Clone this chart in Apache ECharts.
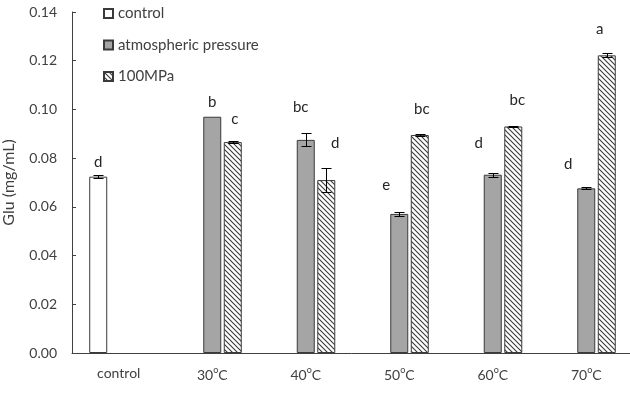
<!DOCTYPE html>
<html>
<head>
<meta charset="utf-8">
<script src="https://cdn.jsdelivr.net/npm/echarts@6/dist/echarts.min.js"></script>
<style>
  html, body { margin: 0; padding: 0; background: #fff; }
  #main { width: 630px; height: 402px; }
</style>
</head>
<body>
<div id="main"></div>
<script>
// data
var categories = ['control', '30°C', '40°C', '50°C', '60°C', '70°C'];
var controlValues = [0.0724, null, null, null, null, null];
var controlErrors = [0.0005, 0, 0, 0, 0, 0];
var atmValues = [null, 0.0970, 0.0875, 0.0571, 0.0732, 0.0676];
var atmErrors = [0, 0, 0.0027, 0.0007, 0.0008, 0.0004];
var mpaValues = [null, 0.0866, 0.0710, 0.0895, 0.0930, 0.1222];
var mpaErrors = [0, 0.0005, 0.0051, 0.0005, 0.0003, 0.0008];
var controlLetters = ['d', '', '', '', '', ''];
var atmLetters = ['', 'b', 'bc', 'e', 'd', 'd'];
var mpaLetters = ['', 'c', 'd', 'bc', 'bc', 'a'];

// where the significance letters sit relative to the bar top (the original used free text boxes)
var controlShift = [[0, 0], [0, 0], [0, 0], [0, 0], [0, 0], [0, 0]];
var atmShift = [[0, 0], [0, 0], [-5, -18], [-13, -14], [-14, -17], [-18, -10]];
var mpaShift = [[0, 0], [2, -8], [9, -22], [2, -11], [4, -12], [-7, -12]];

var FONT = 'Lato';
var barW = 18, barGap = 0.14;
var step = barW * (1 + barGap);

// diagonal hatch for the 100MPa series
function hatch() {
    var s = 5;
    var c = document.createElement('canvas');
    c.width = s; c.height = s;
    var g = c.getContext('2d');
    g.fillStyle = '#fff';
    g.fillRect(0, 0, s, s);
    g.strokeStyle = '#3a3a3a';
    g.lineWidth = 1.1;
    g.beginPath();
    g.moveTo(-1, -1); g.lineTo(s + 1, s + 1);
    g.moveTo(-1, s - 1); g.lineTo(1, s + 1);
    g.moveTo(s - 1, -1); g.lineTo(s + 1, 1);
    g.stroke();
    return c;
}

function barData(values, letters, shift) {
    return values.map(function (v, i) {
        return {
            value: v,
            label: { offset: shift[i], formatter: letters[i] }
        };
    });
}

function errorSeries(values, errors, dx) {
    var data = [];
    values.forEach(function (v, i) {
        if (v != null && errors[i] > 0) data.push([i, v, errors[i]]);
    });
    return {
        type: 'custom',
        silent: true,
        z: 10,
        data: data,
        encode: { x: 0, y: 1 },
        renderItem: function (params, api) {
            var hi = api.coord([api.value(0), api.value(1) + api.value(2)]);
            var lo = api.coord([api.value(0), api.value(1) - api.value(2)]);
            var x = Math.round(hi[0] + dx) + 0.5;
            var y1 = Math.round(hi[1]) + 0.5, y2 = Math.round(lo[1]) + 0.5;
            var st = { stroke: '#000', lineWidth: 1, fill: null };
            return {
                type: 'group',
                children: [
                    { type: 'line', shape: { x1: x, y1: y1, x2: x, y2: y2 }, style: st },
                    { type: 'line', shape: { x1: x - 5, y1: y1, x2: x + 5, y2: y1 }, style: st },
                    { type: 'line', shape: { x1: x - 5, y1: y2, x2: x + 5, y2: y2 }, style: st }
                ]
            };
        }
    };
}

var barLabel = {
    show: true,
    position: 'top',
    distance: 7,
    fontFamily: FONT,
    fontSize: 15,
    color: '#262626'
};

var myChart = echarts.init(document.getElementById('main'));
var option = {
    animation: false,
    backgroundColor: '#fff',
    textStyle: { fontFamily: FONT },
    legend: {
        orient: 'vertical',
        left: 98,
        top: 1,
        itemWidth: 9,
        itemHeight: 9,
        itemGap: 16.5,
        icon: 'rect',
        selectedMode: false,
        textStyle: { fontFamily: FONT, fontSize: 15, lineHeight: 15, color: '#404040' },
        data: ['control', 'atmospheric pressure', '100MPa']
    },
    grid: { left: 72, top: 12, width: 561, height: 341, outerBoundsMode: 'none', containLabel: false },
    xAxis: {
        type: 'category',
        data: categories,
        axisLine: { lineStyle: { color: '#404040', width: 1 } },
        axisTick: { show: false },
        axisLabel: {
            margin: 13,
            fontFamily: FONT,
            fontSize: 14,
            color: '#404040',
            formatter: function (v) {
                return v.indexOf('°') < 0 ? v : v.replace('°', '{sup|o}');
            },
            rich: {
                sup: { fontSize: 9, padding: [0, 0, 9, 0], color: '#404040', fontFamily: FONT }
            }
        }
    },
    yAxis: {
        type: 'value',
        min: 0,
        max: 0.14,
        interval: 0.02,
        name: 'Glu (mg/mL)',
        nameLocation: 'middle',
        nameRotate: 90,
        nameGap: 55,
        nameTextStyle: { fontFamily: FONT, fontSize: 16, color: '#404040' },
        axisLine: { show: true, lineStyle: { color: '#404040', width: 1 } },
        axisTick: { show: true, inside: true, length: 4, lineStyle: { color: '#404040' } },
        splitLine: { show: false },
        axisLabel: {
            margin: 15,
            fontFamily: FONT,
            fontSize: 14,
            color: '#404040',
            formatter: function (v) { return v.toFixed(2); }
        }
    },
    series: [
        {
            name: 'control',
            type: 'bar',
            barWidth: barW,
            barGap: (barGap * 100) + '%',
            itemStyle: { color: '#fff', borderColor: '#3a3a3a', borderWidth: 1 },
            label: barLabel,
            data: barData(controlValues, controlLetters, controlShift)
        },
        {
            name: 'atmospheric pressure',
            type: 'bar',
            barWidth: barW,
            barGap: (barGap * 100) + '%',
            itemStyle: { color: '#a5a5a5', borderColor: '#3a3a3a', borderWidth: 1 },
            label: barLabel,
            data: barData(atmValues, atmLetters, atmShift)
        },
        {
            name: '100MPa',
            type: 'bar',
            barWidth: barW,
            barGap: (barGap * 100) + '%',
            itemStyle: { color: { image: hatch(), repeat: 'repeat' }, borderColor: '#3a3a3a', borderWidth: 1 },
            label: barLabel,
            data: barData(mpaValues, mpaLetters, mpaShift)
        },
        errorSeries(controlValues, controlErrors, -step),
        errorSeries(atmValues, atmErrors, 0),
        errorSeries(mpaValues, mpaErrors, step)
    ]
};
myChart.setOption(option);
</script>
</body>
</html>
